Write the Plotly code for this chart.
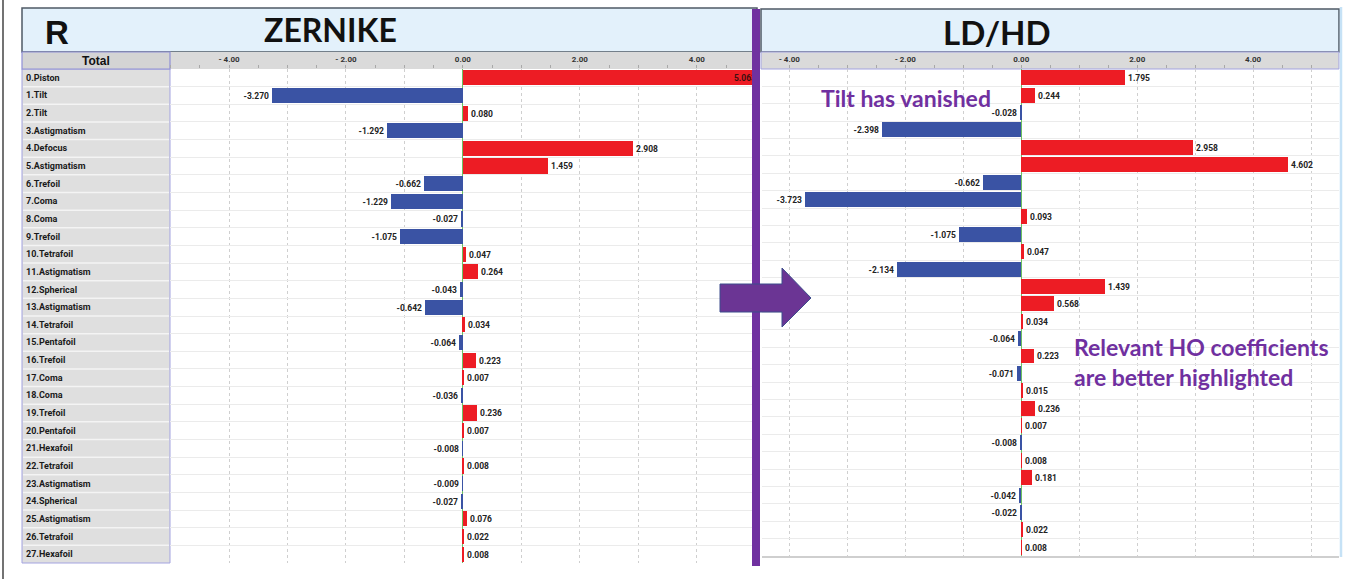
import plotly.graph_objects as go

W, H = 1355, 579

terms = ["0.Piston", "1.Tilt", "2.Tilt", "3.Astigmatism", "4.Defocus", "5.Astigmatism",
         "6.Trefoil", "7.Coma", "8.Coma", "9.Trefoil", "10.Tetrafoil", "11.Astigmatism",
         "12.Spherical", "13.Astigmatism", "14.Tetrafoil", "15.Pentafoil", "16.Trefoil",
         "17.Coma", "18.Coma", "19.Trefoil", "20.Pentafoil", "21.Hexafoil", "22.Tetrafoil",
         "23.Astigmatism", "24.Spherical", "25.Astigmatism", "26.Tetrafoil", "27.Hexafoil"]

zernike = [5.063, -3.270, 0.080, -1.292, 2.908, 1.459, -0.662, -1.229, -0.027, -1.075,
           0.047, 0.264, -0.043, -0.642, 0.034, -0.064, 0.223, 0.007, -0.036, 0.236,
           0.007, -0.008, 0.008, -0.009, -0.027, 0.076, 0.022, 0.008]

ldhd = [1.795, 0.244, -0.028, -2.398, 2.958, 4.602, -0.662, -3.723, 0.093, -1.075,
        0.047, -2.134, 1.439, 0.568, 0.034, -0.064, 0.223, -0.071, 0.015, 0.236,
        0.007, -0.008, 0.008, 0.181, -0.042, -0.022, 0.022, 0.008]

xtick_vals = [-5, -4, -3, -2, -1, 0, 1, 2, 3, 4, 5]
xtick_text = ["", "- 4.00", "", "- 2.00", "", "0.00", "", "2.00", "", "4.00", ""]

RED = "#ed1c24"
BLUE = "#3a53a4"
PURPLE = "#7030a0"
NARROW = "Liberation Sans Narrow, Arial Narrow, Roboto, sans-serif"
TITLEF = "Lato, Open Sans, sans-serif"


def px(x):
    return x / W


def py(y):
    return 1 - y / H


fig = go.Figure()

rows = list(range(len(terms)))
for vals, xa, ya, clip_first in [(zernike, "x", "y", True), (ldhd, "x2", "y2", False)]:
    colors = [RED if v >= 0 else BLUE for v in vals]
    tpos = ["outside"] * len(vals)
    if clip_first:
        tpos[0] = "inside"
    fig.add_trace(go.Bar(
        x=vals, y=rows, orientation="h", xaxis=xa, yaxis=ya,
        marker=dict(color=colors, line=dict(width=0)),
        width=0.86,
        text=[f"{v:.3f}" for v in vals],
        textposition=tpos,
        insidetextanchor="end",
        constraintext="none",
        textangle=0,
        textfont=dict(family=NARROW, size=8.5, color="#222222", weight="bold"),
        insidetextfont=dict(family=NARROW, size=8.5, color="#3a1010", weight="bold"),
        outsidetextfont=dict(family=NARROW, size=8.5, color="#222222", weight="bold"),
        showlegend=False, hoverinfo="skip",
    ))


def xaxis_cfg(domain, rng, anchor):
    return dict(
        domain=domain, range=rng, anchor=anchor, side="top",
        tickmode="array", tickvals=xtick_vals, ticktext=xtick_text,
        tickfont=dict(family=NARROW, size=8, color="#333333", weight="bold"),
        ticks="outside", ticklen=3, tickcolor="#a8a8a8",
        minor=dict(tickmode="linear", tick0=0, dtick=0.5, ticks="outside", ticklen=3,
                   tickcolor="#a8a8a8", showgrid=False),
        showgrid=True, gridcolor="#cfcfcf", griddash="3px,3px", gridwidth=1,
        zeroline=True, zerolinecolor="#6cc062", zerolinewidth=1.2,
        showline=False, fixedrange=True,
    )


def yaxis_cfg(domain, anchor):
    return dict(
        domain=domain, range=[27.5, -0.5], anchor=anchor,
        tickmode="array", tickvals=[i + 0.5 for i in range(-1, 28)],
        showticklabels=False, ticks="", showgrid=True, gridcolor="#ebebeb", gridwidth=1,
        zeroline=False, showline=False, fixedrange=True,
    )


shapes = []
# outer left border
shapes.append(dict(type="line", xref="paper", yref="paper", x0=px(3), x1=px(3), y0=0, y1=1,
                   line=dict(color="#444444", width=1.5), layer="below"))
# headers
shapes.append(dict(type="rect", xref="paper", yref="paper", x0=px(22), x1=px(757), y0=py(52), y1=py(8),
                   fillcolor="#e3f1fb", line=dict(color="#4f5a66", width=1.5), layer="below"))
shapes.append(dict(type="rect", xref="paper", yref="paper", x0=px(761), x1=px(1339), y0=py(52), y1=py(9),
                   fillcolor="#e3f1fb", line=dict(color="#4f5a66", width=1.5), layer="below"))
# axis header rows
shapes.append(dict(type="rect", xref="paper", yref="paper", x0=px(170), x1=px(757), y0=py(69), y1=py(52),
                   fillcolor="#dadada", line=dict(width=0), layer="below"))
shapes.append(dict(type="rect", xref="paper", yref="paper", x0=px(761), x1=px(1339), y0=py(69), y1=py(52),
                   fillcolor="#dadada", line=dict(color="#a3a3e0", width=1), layer="below"))
# label column + Total cell
shapes.append(dict(type="rect", xref="paper", yref="paper", x0=px(22), x1=px(170), y0=py(563), y1=py(69),
                   fillcolor="#dfdfdf", line=dict(color="#a3a3e0", width=1), layer="below"))
shapes.append(dict(type="rect", xref="paper", yref="paper", x0=px(22), x1=px(170), y0=py(69), y1=py(52),
                   fillcolor="#d4d4d4", line=dict(color="#8f8fd6", width=1.2), layer="below"))
for i in range(len(terms) - 1):
    shapes.append(dict(type="line", xref="paper", yref="y", x0=px(23), x1=px(169), y0=i + 0.5, y1=i + 0.5,
                       line=dict(color="#f4f4f4", width=1.5), layer="below"))
# right panel bottom and right border
shapes.append(dict(type="line", xref="paper", yref="paper", x0=px(762), x1=px(1339), y0=py(557), y1=py(557),
                   line=dict(color="#cfcfcf", width=2), layer="below"))
shapes.append(dict(type="line", xref="paper", yref="paper", x0=px(1341), x1=px(1341), y0=py(557), y1=py(7),
                   line=dict(color="#c6e2f6", width=2.5), layer="below"))
# purple divider
shapes.append(dict(type="rect", xref="paper", yref="paper", x0=px(752), x1=px(760), y0=py(566), y1=py(9),
                   fillcolor="#7031a0", line=dict(width=0), layer="above"))
# arrow
pts = [(720, 284), (782, 284), (782, 268), (811, 298), (782, 327), (782, 312), (720, 312)]
path = "M " + " L ".join(f"{px(x)},{py(y)}" for x, y in pts) + " Z"
shapes.append(dict(type="path", xref="paper", yref="paper", path=path,
                   fillcolor="#6b3594", line=dict(color="#3d4d8c", width=1), layer="above"))


def note(x, y, text, size, family, color="#111111", xanchor="center"):
    return dict(x=px(x), y=py(y), xref="paper", yref="paper", text=text, showarrow=False,
                xanchor=xanchor, yanchor="middle",
                font=dict(family=family, size=size, color=color, weight="bold"))


annotations = []
for i, t in enumerate(terms):
    annotations.append(dict(x=px(24), xref="paper", y=i, yref="y", text=t, xanchor="left",
                            yanchor="middle", showarrow=False,
                            font=dict(family=NARROW, size=9, color="#1a1a1a", weight="bold")))
ARIAL = "Liberation Sans, Arial, sans-serif"
annotations += [
    note(96, 61, "Total", 12, ARIAL),
    note(57, 32, "R", 33, ARIAL),
    note(330, 30, "ZERNIKE", 32, TITLEF),
    note(997, 32, "LD/HD", 33, TITLEF),
    note(819, 98, "Tilt has vanished", 23, TITLEF, PURPLE, "left"),
    note(1072, 347, "Relevant HO coefficients", 23, TITLEF, PURPLE, "left"),
    note(1072, 377, "are better highlighted", 23, TITLEF, PURPLE, "left"),
]

fig.update_layout(
    width=W, height=H, margin=dict(l=0, r=0, t=0, b=0),
    paper_bgcolor="white", plot_bgcolor="rgba(0,0,0,0)",
    bargap=0, barmode="overlay",
    xaxis=xaxis_cfg([px(170), px(757)], [-5.01, 5.03], "y"),
    yaxis=yaxis_cfg([py(563), py(69)], "x"),
    xaxis2=xaxis_cfg([px(762), px(1339)], [-4.47, 5.48], "y2"),
    yaxis2=yaxis_cfg([py(556), py(69)], "x2"),
    shapes=shapes, annotations=annotations,
    showlegend=False,
)

fig.write_html(
    "out.html",
    config={"displayModeBar": False},
    post_script="document.body.style.margin='0';document.body.style.padding='0';"
                "document.body.style.overflow='hidden';",
)
